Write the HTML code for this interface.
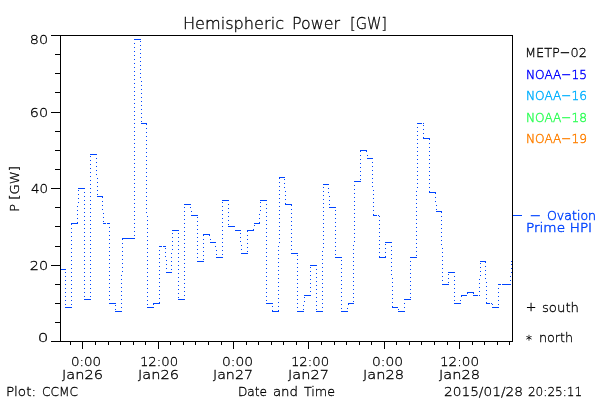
<!DOCTYPE html>
<html lang="en"><head><meta charset="utf-8"><title>Hemispheric Power [GW]</title>
<style>html,body{margin:0;padding:0;background:#fff}body{width:600px;height:400px;overflow:hidden}svg{display:block}text{white-space:pre}</style>
</head><body>
<svg width="600" height="400" viewBox="0 0 600 400">
<rect width="600" height="400" fill="#fff"/>
<path d="M60 35h453v1h-453zM60 341h453v1h-453zM60 35h1v307h-1zM512 35h1v307h-1zM51 341h9v1h-9zM55 322h5v1h-5zM55 303h5v1h-5zM55 284h5v1h-5zM51 265h9v1h-9zM55 246h5v1h-5zM55 226h5v1h-5zM55 207h5v1h-5zM51 188h9v1h-9zM55 169h5v1h-5zM55 150h5v1h-5zM55 131h5v1h-5zM51 112h9v1h-9zM55 92h5v1h-5zM55 73h5v1h-5zM55 54h5v1h-5zM51 35h9v1h-9zM70 342h1v3h-1zM82 342h1v7h-1zM95 342h1v3h-1zM108 342h1v3h-1zM120 342h1v3h-1zM133 342h1v3h-1zM145 342h1v3h-1zM158 342h1v7h-1zM170 342h1v3h-1zM183 342h1v3h-1zM195 342h1v3h-1zM208 342h1v3h-1zM221 342h1v3h-1zM233 342h1v7h-1zM246 342h1v3h-1zM258 342h1v3h-1zM271 342h1v3h-1zM283 342h1v3h-1zM296 342h1v3h-1zM308 342h1v7h-1zM321 342h1v3h-1zM334 342h1v3h-1zM346 342h1v3h-1zM359 342h1v3h-1zM371 342h1v3h-1zM384 342h1v7h-1zM396 342h1v3h-1zM409 342h1v3h-1zM421 342h1v3h-1zM434 342h1v3h-1zM447 342h1v3h-1zM459 342h1v7h-1zM472 342h1v3h-1zM484 342h1v3h-1zM497 342h1v3h-1zM509 342h1v3h-1z" fill="#000" shape-rendering="crispEdges"/>
<path d="M513 215h9v1h-9zM134 39h7v1h-7zM140 41h1v1h-1zM134 43h1v1h-1zM140 45h1v1h-1zM134 47h1v1h-1zM140 49h1v1h-1zM134 51h1v1h-1zM140 53h1v1h-1zM134 55h1v1h-1zM140 57h1v1h-1zM134 59h1v1h-1zM140 61h1v1h-1zM134 63h1v1h-1zM140 65h1v1h-1zM134 67h1v1h-1zM140 69h1v1h-1zM134 71h1v1h-1zM140 73h1v1h-1zM134 75h1v1h-1zM140 77h1v1h-1zM134 79h1v1h-1zM141 81h1v1h-1zM134 83h1v1h-1zM141 85h1v1h-1zM134 87h1v1h-1zM141 89h1v1h-1zM134 91h1v1h-1zM141 93h1v1h-1zM134 95h1v1h-1zM141 97h1v1h-1zM134 99h1v1h-1zM141 101h1v1h-1zM134 103h1v1h-1zM141 105h1v1h-1zM134 107h1v1h-1zM141 109h1v1h-1zM134 111h1v1h-1zM141 113h1v1h-1zM134 115h1v1h-1zM141 117h1v1h-1zM134 119h1v1h-1zM141 121h1v1h-1zM134 123h1v1h-1zM141 123h6v1h-6zM417 123h5v1h-5zM423 123h1v1h-1zM146 124h1v1h-1zM423 125h1v1h-1zM134 127h1v1h-1zM417 127h1v1h-1zM146 128h1v1h-1zM423 129h1v1h-1zM134 131h1v1h-1zM417 131h1v1h-1zM146 132h1v1h-1zM423 133h1v1h-1zM134 135h1v1h-1zM417 135h1v1h-1zM146 136h1v1h-1zM423 137h1v1h-1zM423 138h7v1h-7zM134 139h1v1h-1zM417 139h1v1h-1zM429 139h1v1h-1zM146 140h1v1h-1zM134 143h1v1h-1zM417 143h1v1h-1zM429 143h1v1h-1zM146 144h1v1h-1zM134 147h1v1h-1zM417 147h1v1h-1zM429 147h1v1h-1zM146 148h1v1h-1zM360 150h7v1h-7zM134 151h1v1h-1zM360 151h1v1h-1zM366 151h1v1h-1zM417 151h1v1h-1zM429 151h1v1h-1zM146 152h1v1h-1zM90 154h7v1h-7zM134 155h1v1h-1zM360 155h1v1h-1zM367 155h1v1h-1zM417 155h1v1h-1zM429 155h1v1h-1zM90 156h1v1h-1zM146 156h1v1h-1zM96 158h1v1h-1zM367 158h6v1h-6zM134 159h1v1h-1zM360 159h1v1h-1zM417 159h1v1h-1zM429 159h1v1h-1zM90 160h1v1h-1zM146 160h1v1h-1zM96 162h1v1h-1zM372 162h1v1h-1zM134 163h1v1h-1zM360 163h1v1h-1zM417 163h1v1h-1zM429 163h1v1h-1zM90 164h1v1h-1zM146 164h1v1h-1zM96 166h1v1h-1zM372 166h1v1h-1zM134 167h1v1h-1zM360 167h1v1h-1zM417 167h1v1h-1zM429 167h1v1h-1zM90 168h1v1h-1zM146 168h1v1h-1zM96 170h1v1h-1zM372 170h1v1h-1zM134 171h1v1h-1zM360 171h1v1h-1zM417 171h1v1h-1zM429 171h1v1h-1zM90 172h1v1h-1zM146 172h1v1h-1zM96 174h1v1h-1zM372 174h1v1h-1zM134 175h1v1h-1zM360 175h1v1h-1zM417 175h1v1h-1zM429 175h1v1h-1zM90 176h1v1h-1zM146 176h1v1h-1zM279 177h6v1h-6zM97 178h1v1h-1zM279 178h1v1h-1zM372 178h1v1h-1zM134 179h1v1h-1zM284 179h1v1h-1zM360 179h1v1h-1zM417 179h1v1h-1zM429 179h1v1h-1zM90 180h1v1h-1zM146 180h1v1h-1zM354 181h7v1h-7zM97 182h1v1h-1zM279 182h1v1h-1zM372 182h1v1h-1zM134 183h1v1h-1zM284 183h1v1h-1zM417 183h1v1h-1zM429 183h1v1h-1zM90 184h1v1h-1zM146 184h1v1h-1zM323 184h6v1h-6zM354 185h1v1h-1zM97 186h1v1h-1zM279 186h1v1h-1zM372 186h1v1h-1zM134 187h1v1h-1zM284 187h1v1h-1zM323 187h1v1h-1zM417 187h1v1h-1zM429 187h1v1h-1zM78 188h7v1h-7zM90 188h1v1h-1zM146 188h1v1h-1zM328 188h1v1h-1zM354 189h1v1h-1zM78 190h1v1h-1zM97 190h1v1h-1zM279 190h1v1h-1zM373 190h1v1h-1zM134 191h1v1h-1zM285 191h1v1h-1zM323 191h1v1h-1zM416 191h1v1h-1zM429 191h1v1h-1zM84 192h1v1h-1zM90 192h1v1h-1zM146 192h1v1h-1zM328 192h1v1h-1zM429 192h7v1h-7zM354 193h1v1h-1zM435 193h1v1h-1zM78 194h1v1h-1zM97 194h1v1h-1zM279 194h1v1h-1zM373 194h1v1h-1zM134 195h1v1h-1zM285 195h1v1h-1zM323 195h1v1h-1zM416 195h1v1h-1zM84 196h1v1h-1zM90 196h1v1h-1zM97 196h6v1h-6zM146 196h1v1h-1zM329 196h1v1h-1zM102 197h1v1h-1zM354 197h1v1h-1zM435 197h1v1h-1zM78 198h1v1h-1zM279 198h1v1h-1zM373 198h1v1h-1zM134 199h1v1h-1zM285 199h1v1h-1zM323 199h1v1h-1zM416 199h1v1h-1zM84 200h1v1h-1zM90 200h1v1h-1zM146 200h1v1h-1zM222 200h7v1h-7zM260 200h7v1h-7zM329 200h1v1h-1zM102 201h1v1h-1zM354 201h1v1h-1zM435 201h1v1h-1zM78 202h1v1h-1zM222 202h1v1h-1zM260 202h1v1h-1zM279 202h1v1h-1zM373 202h1v1h-1zM134 203h1v1h-1zM285 203h1v1h-1zM323 203h1v1h-1zM416 203h1v1h-1zM84 204h1v1h-1zM90 204h1v1h-1zM146 204h1v1h-1zM184 204h7v1h-7zM228 204h1v1h-1zM266 204h1v1h-1zM285 204h7v1h-7zM329 204h1v1h-1zM102 205h1v1h-1zM291 205h1v1h-1zM354 205h1v1h-1zM436 205h1v1h-1zM77 206h1v1h-1zM222 206h1v1h-1zM260 206h1v1h-1zM279 206h1v1h-1zM373 206h1v1h-1zM134 207h1v1h-1zM184 207h1v1h-1zM190 207h1v1h-1zM323 207h1v1h-1zM329 207h7v1h-7zM416 207h1v1h-1zM84 208h1v1h-1zM90 208h1v1h-1zM146 208h1v1h-1zM228 208h1v1h-1zM266 208h1v1h-1zM102 209h1v1h-1zM291 209h1v1h-1zM354 209h1v1h-1zM436 209h1v1h-1zM77 210h1v1h-1zM222 210h1v1h-1zM260 210h1v1h-1zM279 210h1v1h-1zM335 210h1v1h-1zM373 210h1v1h-1zM134 211h1v1h-1zM184 211h1v1h-1zM191 211h1v1h-1zM323 211h1v1h-1zM416 211h1v1h-1zM436 211h6v1h-6zM84 212h1v1h-1zM90 212h1v1h-1zM146 212h1v1h-1zM228 212h1v1h-1zM266 212h1v1h-1zM441 212h1v1h-1zM103 213h1v1h-1zM291 213h1v1h-1zM354 213h1v1h-1zM77 214h1v1h-1zM222 214h1v1h-1zM259 214h1v1h-1zM279 214h1v1h-1zM335 214h1v1h-1zM373 214h1v1h-1zM134 215h1v1h-1zM184 215h1v1h-1zM191 215h7v1h-7zM323 215h1v1h-1zM373 215h4v1h-4zM378 215h1v1h-1zM416 215h1v1h-1zM84 216h1v1h-1zM90 216h1v1h-1zM147 216h1v1h-1zM228 216h1v1h-1zM266 216h1v1h-1zM379 216h1v1h-1zM441 216h1v1h-1zM103 217h1v1h-1zM197 217h1v1h-1zM291 217h1v1h-1zM354 217h1v1h-1zM77 218h1v1h-1zM222 218h1v1h-1zM259 218h1v1h-1zM279 218h1v1h-1zM335 218h1v1h-1zM134 219h1v1h-1zM184 219h1v1h-1zM323 219h1v1h-1zM416 219h1v1h-1zM84 220h1v1h-1zM90 220h1v1h-1zM147 220h1v1h-1zM228 220h1v1h-1zM266 220h1v1h-1zM379 220h1v1h-1zM441 220h1v1h-1zM103 221h1v1h-1zM197 221h1v1h-1zM291 221h1v1h-1zM354 221h1v1h-1zM77 222h1v1h-1zM222 222h1v1h-1zM259 222h1v1h-1zM279 222h1v1h-1zM335 222h1v1h-1zM71 223h7v1h-7zM103 223h3v1h-3zM107 223h3v1h-3zM134 223h1v1h-1zM184 223h1v1h-1zM254 223h6v1h-6zM323 223h1v1h-1zM416 223h1v1h-1zM71 224h1v1h-1zM84 224h1v1h-1zM90 224h1v1h-1zM147 224h1v1h-1zM228 224h1v1h-1zM266 224h1v1h-1zM379 224h1v1h-1zM441 224h1v1h-1zM197 225h1v1h-1zM254 225h1v1h-1zM291 225h1v1h-1zM354 225h1v1h-1zM222 226h1v1h-1zM228 226h7v1h-7zM279 226h1v1h-1zM335 226h1v1h-1zM109 227h1v1h-1zM134 227h1v1h-1zM184 227h1v1h-1zM323 227h1v1h-1zM416 227h1v1h-1zM71 228h1v1h-1zM84 228h1v1h-1zM90 228h1v1h-1zM147 228h1v1h-1zM266 228h1v1h-1zM379 228h1v1h-1zM441 228h1v1h-1zM197 229h1v1h-1zM253 229h1v1h-1zM291 229h1v1h-1zM354 229h1v1h-1zM172 230h7v1h-7zM222 230h1v1h-1zM235 230h6v1h-6zM247 230h7v1h-7zM279 230h1v1h-1zM335 230h1v1h-1zM109 231h1v1h-1zM134 231h1v1h-1zM184 231h1v1h-1zM247 231h1v1h-1zM323 231h1v1h-1zM416 231h1v1h-1zM71 232h1v1h-1zM84 232h1v1h-1zM90 232h1v1h-1zM147 232h1v1h-1zM266 232h1v1h-1zM379 232h1v1h-1zM441 232h1v1h-1zM172 233h1v1h-1zM178 233h1v1h-1zM197 233h1v1h-1zM240 233h1v1h-1zM291 233h1v1h-1zM354 233h1v1h-1zM203 234h7v1h-7zM222 234h1v1h-1zM279 234h1v1h-1zM335 234h1v1h-1zM109 235h1v1h-1zM134 235h1v1h-1zM184 235h1v1h-1zM203 235h1v1h-1zM209 235h1v1h-1zM247 235h1v1h-1zM323 235h1v1h-1zM416 235h1v1h-1zM71 236h1v1h-1zM84 236h1v1h-1zM90 236h1v1h-1zM147 236h1v1h-1zM266 236h1v1h-1zM379 236h1v1h-1zM441 236h1v1h-1zM172 237h1v1h-1zM178 237h1v1h-1zM197 237h1v1h-1zM240 237h1v1h-1zM291 237h1v1h-1zM354 237h1v1h-1zM122 238h13v1h-13zM222 238h1v1h-1zM279 238h1v1h-1zM335 238h1v1h-1zM109 239h1v1h-1zM122 239h1v1h-1zM184 239h1v1h-1zM203 239h1v1h-1zM210 239h1v1h-1zM247 239h1v1h-1zM323 239h1v1h-1zM416 239h1v1h-1zM71 240h1v1h-1zM84 240h1v1h-1zM90 240h1v1h-1zM147 240h1v1h-1zM266 240h1v1h-1zM379 240h1v1h-1zM441 240h1v1h-1zM172 241h1v1h-1zM178 241h1v1h-1zM197 241h1v1h-1zM240 241h1v1h-1zM291 241h1v1h-1zM354 241h1v1h-1zM210 242h6v1h-6zM222 242h1v1h-1zM279 242h1v1h-1zM335 242h1v1h-1zM385 242h7v1h-7zM109 243h1v1h-1zM122 243h1v1h-1zM184 243h1v1h-1zM203 243h1v1h-1zM247 243h1v1h-1zM323 243h1v1h-1zM416 243h1v1h-1zM71 244h1v1h-1zM84 244h1v1h-1zM90 244h1v1h-1zM147 244h1v1h-1zM266 244h1v1h-1zM379 244h1v1h-1zM385 244h1v1h-1zM441 244h1v1h-1zM172 245h1v1h-1zM178 245h1v1h-1zM197 245h1v1h-1zM241 245h1v1h-1zM291 245h1v1h-1zM353 245h1v1h-1zM159 246h3v1h-3zM163 246h3v1h-3zM215 246h1v1h-1zM222 246h1v1h-1zM278 246h1v1h-1zM335 246h1v1h-1zM391 246h1v1h-1zM109 247h1v1h-1zM122 247h1v1h-1zM184 247h1v1h-1zM203 247h1v1h-1zM247 247h1v1h-1zM323 247h1v1h-1zM416 247h1v1h-1zM71 248h1v1h-1zM84 248h1v1h-1zM90 248h1v1h-1zM147 248h1v1h-1zM165 248h1v1h-1zM266 248h1v1h-1zM379 248h1v1h-1zM385 248h1v1h-1zM442 248h1v1h-1zM172 249h1v1h-1zM178 249h1v1h-1zM197 249h1v1h-1zM241 249h1v1h-1zM291 249h1v1h-1zM353 249h1v1h-1zM159 250h1v1h-1zM216 250h1v1h-1zM222 250h1v1h-1zM278 250h1v1h-1zM335 250h1v1h-1zM391 250h1v1h-1zM109 251h1v1h-1zM122 251h1v1h-1zM184 251h1v1h-1zM203 251h1v1h-1zM247 251h1v1h-1zM322 251h1v1h-1zM416 251h1v1h-1zM71 252h1v1h-1zM84 252h1v1h-1zM90 252h1v1h-1zM147 252h1v1h-1zM165 252h1v1h-1zM266 252h1v1h-1zM379 252h1v1h-1zM385 252h1v1h-1zM442 252h1v1h-1zM171 253h1v1h-1zM178 253h1v1h-1zM197 253h1v1h-1zM241 253h7v1h-7zM291 253h7v1h-7zM353 253h1v1h-1zM159 254h1v1h-1zM216 254h1v1h-1zM222 254h1v1h-1zM278 254h1v1h-1zM335 254h1v1h-1zM391 254h1v1h-1zM109 255h1v1h-1zM122 255h1v1h-1zM184 255h1v1h-1zM203 255h1v1h-1zM297 255h1v1h-1zM322 255h1v1h-1zM416 255h1v1h-1zM71 256h1v1h-1zM84 256h1v1h-1zM90 256h1v1h-1zM147 256h1v1h-1zM165 256h1v1h-1zM266 256h1v1h-1zM379 256h1v1h-1zM385 256h1v1h-1zM442 256h1v1h-1zM171 257h1v1h-1zM178 257h1v1h-1zM197 257h1v1h-1zM216 257h7v1h-7zM335 257h7v1h-7zM353 257h1v1h-1zM379 257h7v1h-7zM410 257h7v1h-7zM159 258h1v1h-1zM278 258h1v1h-1zM391 258h1v1h-1zM109 259h1v1h-1zM122 259h1v1h-1zM184 259h1v1h-1zM203 259h1v1h-1zM297 259h1v1h-1zM322 259h1v1h-1zM71 260h1v1h-1zM84 260h1v1h-1zM90 260h1v1h-1zM147 260h1v1h-1zM166 260h1v1h-1zM266 260h1v1h-1zM341 260h1v1h-1zM442 260h1v1h-1zM171 261h1v1h-1zM178 261h1v1h-1zM197 261h7v1h-7zM353 261h1v1h-1zM410 261h1v1h-1zM480 261h6v1h-6zM511 261h1v1h-1zM159 262h1v1h-1zM278 262h1v1h-1zM391 262h1v1h-1zM485 262h1v1h-1zM109 263h1v1h-1zM122 263h1v1h-1zM184 263h1v1h-1zM297 263h1v1h-1zM322 263h1v1h-1zM480 263h1v1h-1zM71 264h1v1h-1zM84 264h1v1h-1zM90 264h1v1h-1zM147 264h1v1h-1zM166 264h1v1h-1zM266 264h1v1h-1zM341 264h1v1h-1zM442 264h1v1h-1zM511 264h1v1h-1zM171 265h1v1h-1zM178 265h1v1h-1zM310 265h7v1h-7zM353 265h1v1h-1zM410 265h1v1h-1zM159 266h1v1h-1zM278 266h1v1h-1zM391 266h1v1h-1zM485 266h1v1h-1zM109 267h1v1h-1zM122 267h1v1h-1zM184 267h1v1h-1zM297 267h1v1h-1zM310 267h1v1h-1zM322 267h1v1h-1zM480 267h1v1h-1zM71 268h1v1h-1zM84 268h1v1h-1zM90 268h1v1h-1zM147 268h1v1h-1zM166 268h1v1h-1zM266 268h1v1h-1zM341 268h1v1h-1zM442 268h1v1h-1zM511 268h1v1h-1zM61 269h5v1h-5zM171 269h1v1h-1zM178 269h1v1h-1zM316 269h1v1h-1zM353 269h1v1h-1zM410 269h1v1h-1zM159 270h1v1h-1zM278 270h1v1h-1zM391 270h1v1h-1zM485 270h1v1h-1zM109 271h1v1h-1zM122 271h1v1h-1zM184 271h1v1h-1zM297 271h1v1h-1zM310 271h1v1h-1zM322 271h1v1h-1zM480 271h1v1h-1zM65 272h1v1h-1zM71 272h1v1h-1zM84 272h1v1h-1zM90 272h1v1h-1zM147 272h1v1h-1zM166 272h6v1h-6zM266 272h1v1h-1zM341 272h1v1h-1zM442 272h1v1h-1zM448 272h7v1h-7zM511 272h1v1h-1zM178 273h1v1h-1zM316 273h1v1h-1zM353 273h1v1h-1zM410 273h1v1h-1zM159 274h1v1h-1zM278 274h1v1h-1zM391 274h1v1h-1zM448 274h1v1h-1zM485 274h1v1h-1zM109 275h1v1h-1zM121 275h1v1h-1zM184 275h1v1h-1zM297 275h1v1h-1zM310 275h1v1h-1zM322 275h1v1h-1zM480 275h1v1h-1zM65 276h1v1h-1zM71 276h1v1h-1zM84 276h1v1h-1zM90 276h1v1h-1zM147 276h1v1h-1zM266 276h1v1h-1zM341 276h1v1h-1zM442 276h1v1h-1zM454 276h1v1h-1zM510 276h1v1h-1zM178 277h1v1h-1zM316 277h1v1h-1zM353 277h1v1h-1zM410 277h1v1h-1zM159 278h1v1h-1zM278 278h1v1h-1zM392 278h1v1h-1zM448 278h1v1h-1zM485 278h1v1h-1zM109 279h1v1h-1zM121 279h1v1h-1zM184 279h1v1h-1zM297 279h1v1h-1zM310 279h1v1h-1zM322 279h1v1h-1zM479 279h1v1h-1zM65 280h1v1h-1zM71 280h1v1h-1zM84 280h1v1h-1zM90 280h1v1h-1zM147 280h1v1h-1zM266 280h1v1h-1zM341 280h1v1h-1zM442 280h1v1h-1zM454 280h1v1h-1zM510 280h1v1h-1zM178 281h1v1h-1zM316 281h1v1h-1zM353 281h1v1h-1zM410 281h1v1h-1zM159 282h1v1h-1zM278 282h1v1h-1zM392 282h1v1h-1zM448 282h1v1h-1zM486 282h1v1h-1zM109 283h1v1h-1zM121 283h1v1h-1zM184 283h1v1h-1zM297 283h1v1h-1zM310 283h1v1h-1zM322 283h1v1h-1zM479 283h1v1h-1zM65 284h1v1h-1zM71 284h1v1h-1zM84 284h1v1h-1zM90 284h1v1h-1zM147 284h1v1h-1zM266 284h1v1h-1zM341 284h1v1h-1zM442 284h7v1h-7zM454 284h1v1h-1zM498 284h3v1h-3zM502 284h9v1h-9zM178 285h1v1h-1zM316 285h1v1h-1zM353 285h1v1h-1zM410 285h1v1h-1zM159 286h1v1h-1zM278 286h1v1h-1zM392 286h1v1h-1zM486 286h1v1h-1zM109 287h1v1h-1zM121 287h1v1h-1zM184 287h1v1h-1zM297 287h1v1h-1zM310 287h1v1h-1zM322 287h1v1h-1zM479 287h1v1h-1zM65 288h1v1h-1zM71 288h1v1h-1zM84 288h1v1h-1zM90 288h1v1h-1zM147 288h1v1h-1zM266 288h1v1h-1zM341 288h1v1h-1zM454 288h1v1h-1zM498 288h1v1h-1zM178 289h1v1h-1zM316 289h1v1h-1zM353 289h1v1h-1zM410 289h1v1h-1zM159 290h1v1h-1zM278 290h1v1h-1zM392 290h1v1h-1zM486 290h1v1h-1zM109 291h1v1h-1zM121 291h1v1h-1zM184 291h1v1h-1zM297 291h1v1h-1zM310 291h1v1h-1zM322 291h1v1h-1zM479 291h1v1h-1zM65 292h1v1h-1zM71 292h1v1h-1zM84 292h1v1h-1zM90 292h1v1h-1zM147 292h1v1h-1zM266 292h1v1h-1zM341 292h1v1h-1zM454 292h1v1h-1zM467 292h7v1h-7zM498 292h1v1h-1zM178 293h1v1h-1zM316 293h1v1h-1zM353 293h1v1h-1zM410 293h1v1h-1zM467 293h1v1h-1zM473 293h1v1h-1zM159 294h1v1h-1zM278 294h1v1h-1zM392 294h1v1h-1zM486 294h1v1h-1zM109 295h1v1h-1zM121 295h1v1h-1zM184 295h1v1h-1zM297 295h1v1h-1zM304 295h7v1h-7zM322 295h1v1h-1zM461 295h6v1h-6zM473 295h5v1h-5zM479 295h1v1h-1zM65 296h1v1h-1zM71 296h1v1h-1zM84 296h1v1h-1zM90 296h1v1h-1zM147 296h1v1h-1zM266 296h1v1h-1zM341 296h1v1h-1zM454 296h1v1h-1zM461 296h1v1h-1zM498 296h1v1h-1zM178 297h1v1h-1zM304 297h1v1h-1zM316 297h1v1h-1zM353 297h1v1h-1zM410 297h1v1h-1zM159 298h1v1h-1zM278 298h1v1h-1zM392 298h1v1h-1zM486 298h1v1h-1zM84 299h7v1h-7zM109 299h1v1h-1zM121 299h1v1h-1zM178 299h7v1h-7zM297 299h1v1h-1zM322 299h1v1h-1zM404 299h7v1h-7zM65 300h1v1h-1zM71 300h1v1h-1zM147 300h1v1h-1zM266 300h1v1h-1zM341 300h1v1h-1zM454 300h1v1h-1zM460 300h1v1h-1zM498 300h1v1h-1zM304 301h1v1h-1zM316 301h1v1h-1zM353 301h1v1h-1zM159 302h1v1h-1zM278 302h1v1h-1zM392 302h1v1h-1zM486 302h1v1h-1zM109 303h7v1h-7zM121 303h1v1h-1zM153 303h7v1h-7zM266 303h7v1h-7zM297 303h1v1h-1zM322 303h1v1h-1zM348 303h6v1h-6zM404 303h1v1h-1zM454 303h7v1h-7zM486 303h4v1h-4zM491 303h1v1h-1zM65 304h1v1h-1zM71 304h1v1h-1zM147 304h1v1h-1zM153 304h1v1h-1zM341 304h1v1h-1zM348 304h1v1h-1zM492 304h1v1h-1zM498 304h1v1h-1zM115 305h1v1h-1zM303 305h1v1h-1zM316 305h1v1h-1zM272 306h1v1h-1zM278 306h1v1h-1zM392 306h1v1h-1zM65 307h7v1h-7zM121 307h1v1h-1zM147 307h7v1h-7zM297 307h1v1h-1zM322 307h1v1h-1zM392 307h6v1h-6zM404 307h1v1h-1zM492 307h7v1h-7zM341 308h1v1h-1zM347 308h1v1h-1zM115 309h1v1h-1zM303 309h1v1h-1zM316 309h1v1h-1zM398 309h1v1h-1zM272 310h1v1h-1zM278 310h1v1h-1zM115 311h7v1h-7zM272 311h7v1h-7zM297 311h7v1h-7zM316 311h7v1h-7zM341 311h7v1h-7zM398 311h7v1h-7z" fill="#0044ff" shape-rendering="crispEdges"/>
<g font-family="'DejaVu Sans Light', 'DejaVu Sans', 'Liberation Sans', sans-serif" stroke-width="0.3" style="will-change:opacity">
<text x="182.94" y="29" font-size="16.4" fill="#000" stroke="#000" textLength="101.09" lengthAdjust="spacingAndGlyphs">Hemispheric</text>
<text x="291.93" y="29" font-size="16.4" fill="#000" stroke="#000" textLength="48.07" lengthAdjust="spacingAndGlyphs">Power</text>
<text x="349.94" y="29" font-size="16.4" fill="#000" stroke="#000" textLength="37.12" lengthAdjust="spacingAndGlyphs">[GW]</text>
<text x="29.86" y="44" font-size="13.0" fill="#000" stroke="#000" textLength="18.29" lengthAdjust="spacingAndGlyphs">80</text>
<text x="29.86" y="117" font-size="13.0" fill="#000" stroke="#000" textLength="18.29" lengthAdjust="spacingAndGlyphs">60</text>
<text x="31.00" y="193" font-size="13.0" fill="#000" stroke="#000" textLength="17.07" lengthAdjust="spacingAndGlyphs">40</text>
<text x="29.86" y="270" font-size="13.0" fill="#000" stroke="#000" textLength="18.29" lengthAdjust="spacingAndGlyphs">20</text>
<text x="37.67" y="342" font-size="13.0" fill="#000" stroke="#000" textLength="10.67" lengthAdjust="spacingAndGlyphs">0</text>
<text x="70.92" y="366" font-size="13.0" fill="#000" stroke="#000" textLength="30.15" lengthAdjust="spacingAndGlyphs">0:00</text>
<text x="61.95" y="379" font-size="13.0" fill="#000" stroke="#000" textLength="41.11" lengthAdjust="spacingAndGlyphs">Jan26</text>
<text x="139.94" y="366" font-size="13.0" fill="#000" stroke="#000" textLength="38.12" lengthAdjust="spacingAndGlyphs">12:00</text>
<text x="137.95" y="379" font-size="13.0" fill="#000" stroke="#000" textLength="41.11" lengthAdjust="spacingAndGlyphs">Jan26</text>
<text x="221.93" y="366" font-size="13.0" fill="#000" stroke="#000" textLength="31.15" lengthAdjust="spacingAndGlyphs">0:00</text>
<text x="212.94" y="379" font-size="13.0" fill="#000" stroke="#000" textLength="40.11" lengthAdjust="spacingAndGlyphs">Jan27</text>
<text x="290.94" y="366" font-size="13.0" fill="#000" stroke="#000" textLength="38.12" lengthAdjust="spacingAndGlyphs">12:00</text>
<text x="287.95" y="379" font-size="13.0" fill="#000" stroke="#000" textLength="41.11" lengthAdjust="spacingAndGlyphs">Jan27</text>
<text x="371.93" y="366" font-size="13.0" fill="#000" stroke="#000" textLength="31.15" lengthAdjust="spacingAndGlyphs">0:00</text>
<text x="362.95" y="379" font-size="13.0" fill="#000" stroke="#000" textLength="41.11" lengthAdjust="spacingAndGlyphs">Jan28</text>
<text x="439.94" y="366" font-size="13.0" fill="#000" stroke="#000" textLength="39.11" lengthAdjust="spacingAndGlyphs">12:00</text>
<text x="438.95" y="379" font-size="13.0" fill="#000" stroke="#000" textLength="41.11" lengthAdjust="spacingAndGlyphs">Jan28</text>
<text x="5.92" y="396" font-size="13.0" fill="#000" stroke="#000" textLength="30.15" lengthAdjust="spacingAndGlyphs">Plot:</text>
<text x="41.97" y="396" font-size="13.0" fill="#000" stroke="#000" textLength="36.03" lengthAdjust="spacingAndGlyphs">CCMC</text>
<text x="237.92" y="396" font-size="13.0" fill="#000" stroke="#000" textLength="29.16" lengthAdjust="spacingAndGlyphs">Date</text>
<text x="272.90" y="396" font-size="13.0" fill="#000" stroke="#000" textLength="25.19" lengthAdjust="spacingAndGlyphs">and</text>
<text x="304.00" y="396" font-size="13.0" fill="#000" stroke="#000" textLength="31.03" lengthAdjust="spacingAndGlyphs">Time</text>
<text x="443.97" y="396" font-size="13.0" fill="#000" stroke="#000" textLength="79.05" lengthAdjust="spacingAndGlyphs">2015/01/28</text>
<text x="527.91" y="396" font-size="13.0" fill="#000" stroke="#000" textLength="54.35" lengthAdjust="spacingAndGlyphs">20:25:11</text>
<text x="524.89" y="57.2" font-size="13.0" fill="#000" stroke="#000" textLength="62.16" lengthAdjust="spacingAndGlyphs">METP−02</text>
<text x="525.96" y="78.6" font-size="13.0" fill="#0000ff" stroke="#0000ff" stroke-width="0.45" textLength="61.07" lengthAdjust="spacingAndGlyphs">NOAA−15</text>
<text x="525.96" y="100" font-size="13.0" fill="#00b0ff" stroke="#00b0ff" stroke-width="0.45" textLength="61.07" lengthAdjust="spacingAndGlyphs">NOAA−16</text>
<text x="525.96" y="121.8" font-size="13.0" fill="#33ff5a" stroke="#33ff5a" stroke-width="0.45" textLength="61.07" lengthAdjust="spacingAndGlyphs">NOAA−18</text>
<text x="525.96" y="143" font-size="13.0" fill="#ff8000" stroke="#ff8000" stroke-width="0.45" textLength="61.07" lengthAdjust="spacingAndGlyphs">NOAA−19</text>
<text x="529.71" y="220" font-size="13.0" fill="#0044ff" stroke="#0044ff" stroke-width="0.45" textLength="11.57" lengthAdjust="spacingAndGlyphs">−</text>
<text x="546.96" y="220" font-size="13.0" fill="#0044ff" stroke="#0044ff" stroke-width="0.45" textLength="49.09" lengthAdjust="spacingAndGlyphs">Ovation</text>
<text x="525.94" y="232" font-size="13.0" fill="#0044ff" stroke="#0044ff" stroke-width="0.45" textLength="39.11" lengthAdjust="spacingAndGlyphs">Prime</text>
<text x="569.89" y="232" font-size="13.0" fill="#0044ff" stroke="#0044ff" stroke-width="0.45" textLength="22.22" lengthAdjust="spacingAndGlyphs">HPI</text>
<text x="525.67" y="311.4" font-size="13.0" fill="#000" stroke="#000" textLength="10.67" lengthAdjust="spacingAndGlyphs">+</text>
<text x="541.94" y="312" font-size="13.0" fill="#000" stroke="#000" textLength="37.12" lengthAdjust="spacingAndGlyphs">south</text>
<text x="526.00" y="344" font-size="13.0" fill="#000" stroke="#000" textLength="6.00" lengthAdjust="spacingAndGlyphs">*</text>
<text x="538.93" y="342" font-size="13.0" fill="#000" stroke="#000" textLength="34.13" lengthAdjust="spacingAndGlyphs">north</text>
<text transform="translate(18.5 212.05) rotate(-90)" font-size="13.0" fill="#000" stroke="#000" textLength="46.10" lengthAdjust="spacingAndGlyphs">P [GW]</text>
</g>
</svg>
</body></html>
